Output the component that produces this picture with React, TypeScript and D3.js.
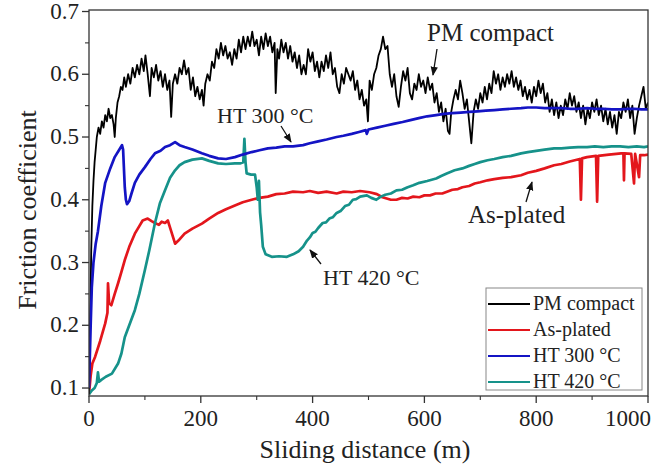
import React from "react";
import * as d3 from "d3";

const W = 663;
const H = 466;

// Series data: [sliding distance (m), friction coefficient]
const pmCompact: [number, number][] = [
  [0,0.09],[2,0.2],[4,0.32],[6,0.39],[8,0.43],[10,0.46],[12,0.48],[14,0.5],[17,0.515],[20,0.505],
  [23,0.525],[26,0.515],[29,0.535],[32,0.525],[35,0.545],[38,0.53],[41,0.535],[44,0.52],[46,0.5],[48,0.53],
  [51,0.555],[54,0.565],[57,0.58],[60,0.575],[63,0.595],[66,0.58],[70,0.6],[74,0.585],[78,0.61],[82,0.595],
  [86,0.615],[90,0.6],[94,0.625],[98,0.605],[101,0.63],[105,0.6],[109,0.565],[112,0.61],[116,0.595],[120,0.615],
  [124,0.59],[128,0.605],[132,0.58],[136,0.6],[140,0.575],[144,0.59],[147,0.532],[150,0.585],[154,0.6],[158,0.585],
  [162,0.61],[166,0.6],[170,0.622],[174,0.6],[178,0.61],[182,0.575],[186,0.595],[190,0.565],[194,0.58],[198,0.56],
  [202,0.575],[205,0.55],[208,0.585],[212,0.6],[216,0.59],[220,0.62],[224,0.61],[228,0.64],[232,0.625],[236,0.65],
  [240,0.63],[244,0.645],[248,0.625],[252,0.635],[256,0.615],[260,0.64],[264,0.625],[268,0.655],[272,0.635],[276,0.66],
  [280,0.64],[284,0.66],[288,0.645],[292,0.668],[296,0.645],[300,0.655],[304,0.63],[308,0.66],[312,0.64],[316,0.665],
  [320,0.645],[324,0.66],[328,0.635],[332,0.65],[334,0.57],[337,0.64],[340,0.625],[344,0.655],[348,0.635],[352,0.65],
  [356,0.625],[360,0.645],[364,0.62],[368,0.635],[372,0.61],[376,0.63],[380,0.6],[384,0.615],[388,0.6],[392,0.64],
  [396,0.62],[400,0.635],[404,0.605],[408,0.62],[412,0.595],[416,0.62],[420,0.605],[424,0.63],[428,0.61],[432,0.635],
  [436,0.6],[440,0.61],[444,0.58],[448,0.57],[452,0.6],[456,0.585],[460,0.61],[464,0.6],[468,0.59],[472,0.605],
  [476,0.575],[480,0.59],[484,0.56],[488,0.575],[492,0.55],[496,0.56],[499,0.525],[502,0.59],[506,0.575],[510,0.6],
  [514,0.61],[518,0.63],[522,0.64],[526,0.66],[530,0.64],[534,0.645],[538,0.6],[542,0.58],[546,0.6],[550,0.565],
  [554,0.548],[558,0.58],[562,0.605],[566,0.59],[570,0.61],[574,0.57],[578,0.56],[582,0.585],[586,0.575],[590,0.6],
  [594,0.58],[598,0.59],[602,0.57],[606,0.595],[610,0.575],[614,0.585],[618,0.555],[622,0.57],[626,0.54],[630,0.555],
  [634,0.525],[638,0.545],[642,0.51],[645,0.505],[648,0.54],[652,0.56],[656,0.575],[660,0.56],[664,0.59],[668,0.57],
  [672,0.545],[676,0.56],[680,0.525],[684,0.49],[688,0.54],[692,0.56],[696,0.545],[700,0.57],[704,0.555],[708,0.58],
  [712,0.56],[716,0.585],[720,0.57],[724,0.605],[728,0.585],[732,0.6],[736,0.575],[740,0.595],[744,0.58],[748,0.6],
  [752,0.585],[756,0.605],[760,0.58],[764,0.595],[768,0.575],[772,0.59],[776,0.565],[780,0.58],[784,0.56],[788,0.575],
  [792,0.555],[796,0.58],[800,0.565],[804,0.59],[808,0.57],[812,0.585],[816,0.555],[820,0.57],[824,0.54],[828,0.56],
  [832,0.535],[836,0.555],[840,0.53],[844,0.55],[848,0.535],[852,0.56],[856,0.545],[860,0.57],[864,0.55],[868,0.565],
  [872,0.54],[876,0.555],[880,0.53],[884,0.55],[888,0.52],[892,0.545],[896,0.53],[900,0.555],[904,0.54],[908,0.56],
  [912,0.535],[916,0.55],[920,0.525],[924,0.545],[928,0.52],[932,0.54],[936,0.515],[940,0.535],[944,0.505],[948,0.54],
  [952,0.53],[956,0.555],[960,0.54],[964,0.56],[968,0.53],[972,0.55],[976,0.505],[980,0.53],[984,0.55],[988,0.565],
  [992,0.58],[996,0.545],[1000,0.555]
];

const asPlated: [number, number][] = [
  [0,0.09],[3,0.12],[6,0.139],[11,0.15],[20,0.175],[29,0.203],[33,0.22],[34,0.267],[36,0.235],[40,0.232],
  [46,0.25],[52,0.267],[58,0.285],[64,0.304],[72,0.325],[82,0.346],[90,0.358],[96,0.367],[105,0.37],[112,0.366],
  [118,0.363],[125,0.36],[130,0.365],[136,0.363],[141,0.367],[147,0.35],[154,0.33],[160,0.335],[171,0.346],[185,0.354],
  [202,0.362],[215,0.37],[231,0.379],[245,0.385],[261,0.391],[275,0.396],[291,0.4],[305,0.403],[320,0.405],[335,0.409],
  [350,0.41],[365,0.413],[383,0.412],[395,0.414],[410,0.411],[425,0.413],[443,0.41],[455,0.413],[470,0.412],[485,0.414],
  [502,0.412],[515,0.409],[525,0.404],[540,0.4],[550,0.4],[560,0.403],[570,0.402],[580,0.405],
  [591,0.404],[600,0.407],[610,0.407],[620,0.41],[632,0.41],[650,0.416],[660,0.417],[668,0.42],[680,0.422],[690,0.426],
  [700,0.428],[713,0.431],[725,0.433],[740,0.435],[755,0.436],[773,0.439],[785,0.443],[800,0.446],[815,0.45],
  [832,0.455],[845,0.457],[860,0.461],[878,0.465],[880,0.4],[882,0.466],[891,0.468],[907,0.47],[909,0.397],[911,0.47],[930,0.472],
  [952,0.474],[956,0.474],[957,0.431],[958,0.474],[970,0.473],[975,0.426],[977,0.473],[984,0.436],[986,0.471],[993,0.471],
  [1000,0.472]
];

const ht300: [number, number][] = [
  [0,0.1],[3,0.2],[5,0.26],[8,0.3],[12,0.33],[16,0.35],[22,0.39],[29,0.427],[38,0.45],[46,0.468],
  [53,0.478],[59,0.487],[61,0.48],[64,0.42],[66,0.4],[68,0.393],[72,0.398],[76,0.41],[82,0.427],[90,0.44],
  [100,0.452],[110,0.465],[118,0.474],[128,0.478],[136,0.484],[145,0.487],[154,0.492],[162,0.487],[171,0.484],[185,0.48],
  [202,0.474],[215,0.47],[231,0.466],[245,0.465],[261,0.468],[275,0.472],[291,0.476],[305,0.479],[320,0.482],[335,0.483],
  [350,0.485],[365,0.485],[383,0.487],[395,0.49],[410,0.493],[425,0.496],[443,0.5],[455,0.502],[470,0.505],[483,0.508],
  [495,0.511],[497,0.505],[500,0.512],[515,0.515],[530,0.518],[545,0.521],[561,0.524],[575,0.527],[590,0.53],[605,0.533],
  [621,0.535],[635,0.537],[650,0.538],[665,0.539],[680,0.54],[695,0.541],[710,0.542],[725,0.543],[740,0.544],[755,0.545],
  [773,0.546],[785,0.547],[800,0.547],[815,0.546],[830,0.546],[845,0.546],[860,0.545],[875,0.545],[891,0.546],[905,0.545],
  [920,0.545],[935,0.544],[950,0.544],[965,0.545],[975,0.545],[988,0.544],[1000,0.544]
];

const ht420: [number, number][] = [
  [0,0.09],[5,0.096],[10,0.1],[14,0.108],[16,0.125],[18,0.11],[22,0.113],[30,0.118],[41,0.123],[52,0.139],
  [58,0.155],[64,0.181],[72,0.2],[82,0.224],[90,0.25],[100,0.288],[108,0.32],[118,0.363],[127,0.395],[136,0.415],
  [145,0.435],[154,0.447],[162,0.455],[171,0.46],[185,0.464],[202,0.466],[215,0.462],[231,0.458],[245,0.457],[261,0.458],
  [270,0.458],[276,0.46],[278,0.497],[280,0.46],[282,0.442],[290,0.44],[297,0.44],[300,0.42],[302,0.4],[304,0.43],
  [306,0.38],[308,0.36],[311,0.325],[316,0.313],[327,0.309],[340,0.31],[354,0.309],[365,0.313],[375,0.318],[383,0.325],
  [390,0.335],[395,0.34],[400,0.347],[405,0.349],[410,0.355],[418,0.363],[424,0.364],[430,0.37],[436,0.372],[443,0.379],
  [450,0.382],[458,0.39],[465,0.392],[472,0.4],[478,0.401],[485,0.405],[497,0.407],
  [505,0.403],[514,0.4],[522,0.405],[530,0.408],[540,0.41],[550,0.415],[560,0.416],[570,0.42],[580,0.423],[591,0.427],[605,0.43],
  [621,0.434],[630,0.438],[640,0.442],[654,0.447],[668,0.45],[680,0.454],
  [690,0.457],[700,0.46],[713,0.463],[725,0.465],[740,0.468],[755,0.47],[773,0.474],[785,0.476],[800,0.478],[815,0.48],[832,0.482],
  [845,0.482],[860,0.483],[875,0.484],[891,0.484],[905,0.485],[920,0.484],[935,0.485],[950,0.485],[965,0.484],[980,0.485],
  [993,0.484],[1000,0.485]
];

const seriesNames = ["PM compact", "As-plated", "HT 300 °C", "HT 420 °C"];
const seriesColors = ["#000000", "#e3161c", "#1414c4", "#16928a"];
const seriesData = [pmCompact, asPlated, ht300, ht420];
const seriesWidths = [1.8, 2.7, 2.7, 2.7];

const xTicks = [0, 200, 400, 600, 800, 1000];
const xMinor = [100, 300, 500, 700, 900];
const yTicks = [0.1, 0.2, 0.3, 0.4, 0.5, 0.6, 0.7];
const yMinor = [0.15, 0.25, 0.35, 0.45, 0.55, 0.65];

const FONT = "'Times New Roman', 'Liberation Serif', 'DejaVu Serif', serif";
const ts = { fontFamily: FONT };

export default function App() {
  const x = d3.scaleLinear().domain([0, 1000]).range([89, 648]);
  const y = d3.scaleLinear().domain([0.0873, 0.7024]).range([396, 10]);
  const line = d3
    .line<[number, number]>()
    .x((d) => x(d[0]))
    .y((d) => y(d[1]));

  const drawOrder = [1, 3, 0, 2];

  return (
    <svg
      width={W}
      height={H}
      style={{ position: "absolute", left: 0, top: 0, background: "#fff" }}
    >
      <defs>
        <marker id="ah" viewBox="0 0 10 10" refX="9" refY="5" markerWidth="7" markerHeight="7" orient="auto">
          <path d="M0,1 L10,5 L0,9 Z" fill="#111" />
        </marker>
        <clipPath id="plot">
          <rect x={89} y={10} width={559} height={386} />
        </clipPath>
      </defs>
      <rect x={0} y={0} width={W} height={H} fill="#fff" />

      <g clipPath="url(#plot)">
        {drawOrder.map((i) => (
          <path
            key={i}
            d={line(seriesData[i]) || ""}
            fill="none"
            stroke={seriesColors[i]}
            strokeWidth={seriesWidths[i]}
            strokeLinejoin="round"
          />
        ))}
      </g>

      {/* frame */}
      <rect x={89} y={10} width={559} height={386} fill="none" stroke="#333" strokeWidth={1.3} />

      {/* y ticks */}
      {yTicks.map((t) => (
        <g key={"y" + t}>
          <line x1={82} x2={89} y1={y(t)} y2={y(t)} stroke="#333" strokeWidth={1.3} />
          <text x={79} y={y(t) + 7} textAnchor="end" fontSize={23} fill="#222" style={ts}>
            {t.toFixed(1)}
          </text>
        </g>
      ))}
      {yMinor.map((t) => (
        <line key={"ym" + t} x1={85} x2={89} y1={y(t)} y2={y(t)} stroke="#333" strokeWidth={1.1} />
      ))}

      {/* x ticks */}
      {xTicks.map((t) => (
        <g key={"x" + t}>
          <line x1={x(t)} x2={x(t)} y1={396} y2={403} stroke="#333" strokeWidth={1.3} />
          <text
            x={t === 1000 ? 651 : x(t)}
            y={426}
            textAnchor={t === 1000 ? "end" : "middle"}
            fontSize={23}
            fill="#222"
            style={ts}
          >
            {t}
          </text>
        </g>
      ))}
      {xMinor.map((t) => (
        <line key={"xm" + t} x1={x(t)} x2={x(t)} y1={396} y2={400} stroke="#333" strokeWidth={1.1} />
      ))}

      {/* axis titles */}
      <text x={365} y={458} textAnchor="middle" fontSize={26} fill="#222" style={ts}>
        Sliding distance (m)
      </text>
      <text
        transform={`translate(36, 210) rotate(-90)`}
        textAnchor="middle"
        fontSize={26}
        fill="#222"
        style={ts}
      >
        Friction coefficient
      </text>

      {/* annotations */}
      <text x={427} y={41} fontSize={25} fill="#222" style={ts}>PM compact</text>
      <line x1={437} y1={49} x2={433} y2={75} stroke="#111" strokeWidth={1.3} markerEnd="url(#ah)" />

      <text x={217} y={123} fontSize={22} fill="#222" style={ts}>HT 300 °C</text>
      <line x1={281} y1={126} x2={291} y2={142} stroke="#111" strokeWidth={1.3} markerEnd="url(#ah)" />

      <text x={468} y={223} fontSize={25} fill="#222" style={ts}>As-plated</text>
      <line x1={526} y1={202} x2={532} y2={182} stroke="#111" strokeWidth={1.3} markerEnd="url(#ah)" />

      <text x={323} y={285} fontSize={22} fill="#222" style={ts}>HT 420 °C</text>
      <line x1={321} y1={264} x2={310} y2={250} stroke="#111" strokeWidth={1.3} markerEnd="url(#ah)" />

      {/* legend */}
      <rect x={486} y={288} width={156} height={102} fill="#fff" stroke="#888" strokeWidth={1} />
      {seriesNames.map((n, i) => (
        <g key={n}>
          <line
            x1={488}
            x2={530}
            y1={304 + i * 26}
            y2={304 + i * 26}
            stroke={seriesColors[i]}
            strokeWidth={2}
          />
          <text x={533} y={310 + i * 26} fontSize={20} fill="#222" style={ts}>
            {n}
          </text>
        </g>
      ))}
    </svg>
  );
}
